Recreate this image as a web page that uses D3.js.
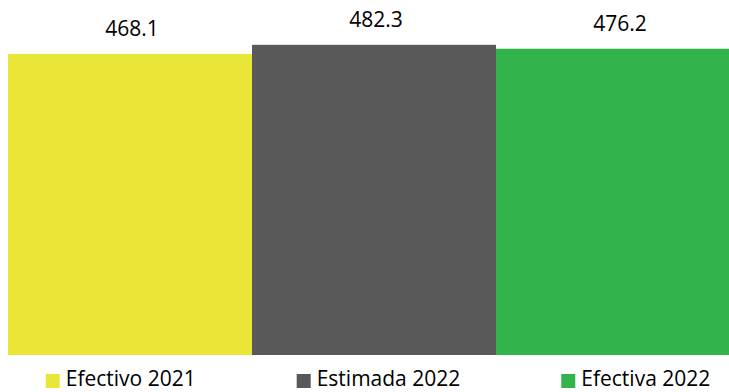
<!DOCTYPE html>
<html>
<head>
<meta charset="utf-8">
<script src="https://cdn.jsdelivr.net/npm/d3@7"></script>
<style>
  html, body { margin: 0; padding: 0; background: #fff; overflow: hidden; }
  svg { display: block; }
  text { font-family: "Open Sans", "Noto Sans", sans-serif; fill: #000; }
</style>
</head>
<body>
<svg id="chart" width="729" height="392"></svg>
<script>
const categories = ["Efectivo 2021", "Estimada 2022", "Efectiva 2022"];
const values = [468.1, 482.3, 476.2];
const colors = ["#E9E638", "#595959", "#33B34B"];
const valueLabels = ["468.1", "482.3", "476.2"];

const W = 729, H = 392;
const svg = d3.select("#chart");

const x = d3.scaleBand().domain(categories).range([8, 740]).paddingInner(0).paddingOuter(0);
const y = d3.scaleLinear().domain([0, 552]).range([355, 0]);

svg.selectAll("rect.bar")
  .data(categories)
  .join("rect")
  .attr("class", "bar")
  .attr("x", d => x(d))
  .attr("width", x.bandwidth())
  .attr("y", (d, i) => y(values[i]))
  .attr("height", (d, i) => y(0) - y(values[i]))
  .attr("fill", (d, i) => colors[i]);

svg.selectAll("text.val")
  .data(categories)
  .join("text")
  .attr("class", "val")
  .attr("x", d => x(d) + x.bandwidth() / 2 + 2)
  .attr("y", (d, i) => y(values[i]) - 18)
  .attr("text-anchor", "middle")
  .attr("font-size", 21)
  .text((d, i) => valueLabels[i]);

// Legend
const legend = svg.append("g");
const items = legend.selectAll("g.item")
  .data(categories)
  .join("g")
  .attr("class", "item");
items.append("rect")
  .attr("width", 14).attr("height", 14)
  .attr("fill", (d, i) => colors[i]);
items.append("text")
  .attr("x", 20)
  .attr("font-size", 21)
  .text(d => d);

const gap = 101;
const widths = [];
items.each(function() {
  const t = d3.select(this).select("text").node().getComputedTextLength();
  widths.push(20 + t);
});
const total = d3.sum(widths) + gap * (widths.length - 1);
let cx = 378 - total / 2;
items.attr("transform", (d, i) => {
  const tx = cx;
  cx += widths[i] + gap;
  return `translate(${tx},${386})`;
});
legend.selectAll("rect").attr("y", -12);
legend.selectAll("text").attr("y", 0);
</script>
</body>
</html>
